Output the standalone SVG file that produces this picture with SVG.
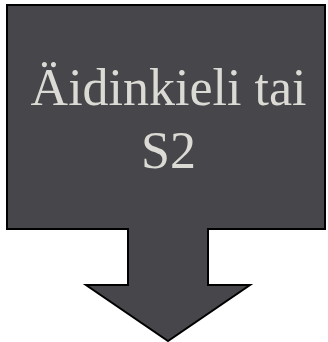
<svg xmlns="http://www.w3.org/2000/svg" width="328" height="342" viewBox="0 0 328 342">
<style>
.shape{fill:#47464b;stroke:#000;stroke-width:2;stroke-linejoin:miter}
.lbl{font-family:"Liberation Serif","Times New Roman",serif;font-size:52px;fill:#dcdad4;text-anchor:middle}
</style>
<rect width="328" height="342" fill="#fff"/>
<g id="callout">
<path class="shape" d="M7,5 H325 V229 H208 V285 H250 L168,341 L86,285 H128 V229 H7 Z"/>
<text class="lbl" x="168.5" y="105">Äidinkieli tai</text>
<text class="lbl" x="168.5" y="168">S2</text>
</g>
<g id="connectors"/>
</svg>
